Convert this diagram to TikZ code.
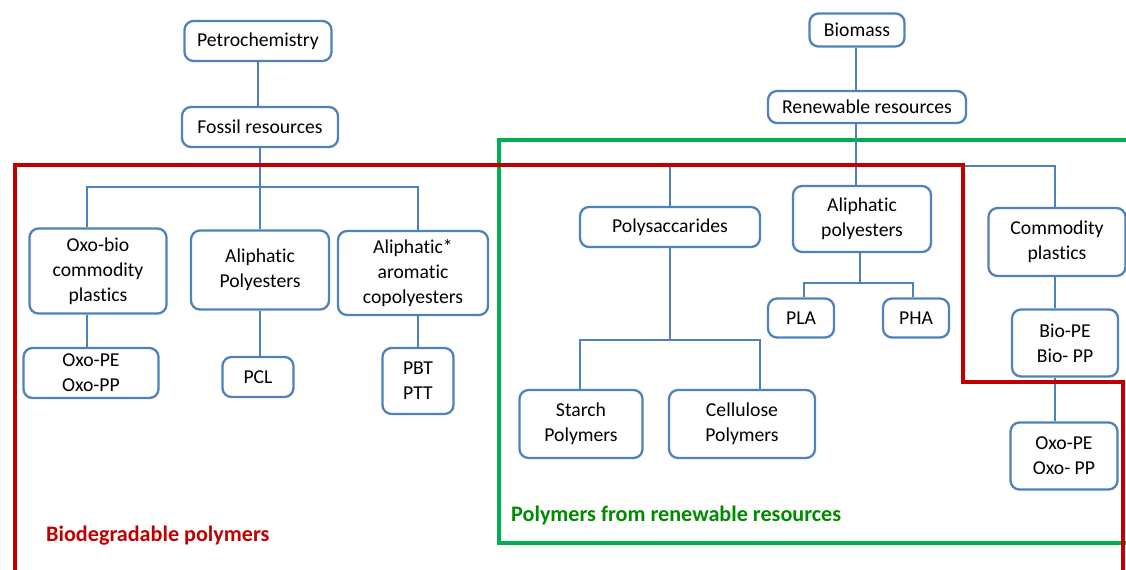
\documentclass[tikz,border=0pt]{standalone}
\usepackage{fontspec}
\setmainfont{Carlito}[Ligatures=NoCommon]
\usepackage{xcolor}
\usepackage{tikz}
\usetikzlibrary{positioning, calc}
\definecolor{boxblue}{HTML}{4F81BD}
\definecolor{biored}{HTML}{C00000}
\definecolor{renewgreen}{HTML}{00B050}
\definecolor{labelgreen}{HTML}{008A00}

\begin{document}
\begin{tikzpicture}[
    x=0.2mm, y=-0.2mm,
    box/.style={rectangle, rounded corners=1.8mm, draw=boxblue, line width=1.3pt, fill=white, inner sep=1pt, align=center, font=\fontsize{11.2}{14.2}\selectfont},
    link/.style={draw=boxblue, line width=1.3pt},
    frame/.style={line width=2.2pt},
    tag/.style={anchor=west, font=\fontsize{12.6}{14}\selectfont\bfseries}
]
\useasboundingbox (0,0) rectangle (1126,569);

% Green frame
\draw[frame, renewgreen] (1130,140) -- (499,140) -- (499,543) -- (1130,543);

% Fossil side
\node[box, minimum width=29.4mm, minimum height=8mm] (petro) at (258,41) {Petrochemistry};
\node[box, minimum width=31.2mm, minimum height=8mm] (fossil) at (260,127) {Fossil resources};

\node[box, minimum width=27.4mm, minimum height=17mm] (oxobio) at (98,271) {Oxo-bio\\commodity\\plastics};
\node[box, minimum width=27.6mm, minimum height=15.8mm] (aliph) at (260,270) {Aliphatic\\Polyesters};
\node[box, minimum width=30mm, minimum height=16.8mm] (arom) at (413,273) {Aliphatic*\\aromatic\\copolyesters};

\node[box, minimum width=27mm, minimum height=10mm] (oxoa) at (91,373) {Oxo-PE\\Oxo-PP};
\node[box, minimum width=14.2mm, minimum height=8mm] (pcl) at (258,377) {PCL};
\node[box, minimum width=14.2mm, minimum height=13.2mm] (pbt) at (418,381) {PBT\\PTT};

% Renewable side
\node[box, minimum width=19mm, minimum height=6.6mm] (biomass) at (857,30) {Biomass};
\node[box, minimum width=39.6mm, minimum height=6.4mm] (renew) at (867,107) {Renewable resources};

\node[box, minimum width=36mm, minimum height=8mm] (polysac) at (670,227) {Polysaccarides};
\node[box, minimum width=27.6mm, minimum height=13.2mm] (aliphb) at (862,219) {Aliphatic\\polyesters};
\node[box, minimum width=27.4mm, minimum height=13.6mm] (commod) at (1057,242) {Commodity\\plastics};

\node[box, minimum width=13.2mm, minimum height=7.8mm] (pla) at (801,318) {PLA};
\node[box, minimum width=13.2mm, minimum height=7.8mm] (pha) at (916,318) {PHA};
\node[box, minimum width=24.6mm, minimum height=13.6mm] (starch) at (581,424) {Starch\\Polymers};
\node[box, minimum width=29.2mm, minimum height=13.6mm] (cellu) at (742,424) {Cellulose\\Polymers};
\node[box, minimum width=21.2mm, minimum height=13.4mm] (biope) at (1065,343) {Bio-PE\\Bio- PP};
\node[box, minimum width=21.4mm, minimum height=13.4mm] (oxob) at (1064,456) {Oxo-PE\\Oxo- PP};

% Junctions
\coordinate (fl) at (87,187);
\coordinate (fr) at (418,187);
\coordinate (rl) at (670,166);
\coordinate (rr) at (1055,166);
\coordinate (al) at (804,283);
\coordinate (ar) at (913,283);
\coordinate (sl) at (580,340);
\coordinate (sr) at (760,340);

% Links
\draw[link] (petro.south) -- (petro.south |- fossil.north);
\draw[link] (fossil.south) -- (fossil.south |- fl);
\draw[link] (fl |- oxobio.north) -- (fl) -- (fr) -- (fr |- arom.north);
\draw[link] (aliph.north -| fossil.south) -- (fossil.south |- fl);
\draw[link] (oxoa.north -| fl) -- (fl |- oxobio.south);
\draw[link] (pcl.north -| aliph.south) -- (aliph.south);
\draw[link] (pbt.north) -- (pbt.north |- arom.south);

\draw[link] (biomass.south -| 856,0) -- (renew.north -| 856,0);
\draw[link] (renew.south -| 856,0) -- (aliphb.north -| 856,0);
\draw[link] (rl |- polysac.north) -- (rl) -- (rr) -- (rr |- commod.north);
\draw[link] (aliphb.south -| 860,0) -- (al -| 860,0);
\draw[link] (al |- pla.north) -- (al) -- (ar) -- (ar |- pha.north);
\draw[link] (polysac.south) -- (polysac.south |- sl);
\draw[link] (sl |- starch.north) -- (sl) -- (sr) -- (sr |- cellu.north);
\draw[link] (commod.south -| rr) -- (biope.north -| rr);
\draw[link] (biope.south -| rr) -- (oxob.north -| rr);

% Red frame
\draw[frame, biored] (15,575) -- (15,165) -- (963,165) -- (963,382) -- (1123,382) -- (1123,575);

% Labels
\node[tag, text=biored] (biolabel) at (40,536) {Biodegradable polymers};
\node[tag, text=labelgreen] (renewlabel) at (505,515) {Polymers from renewable resources};

\end{tikzpicture}
\end{document}
